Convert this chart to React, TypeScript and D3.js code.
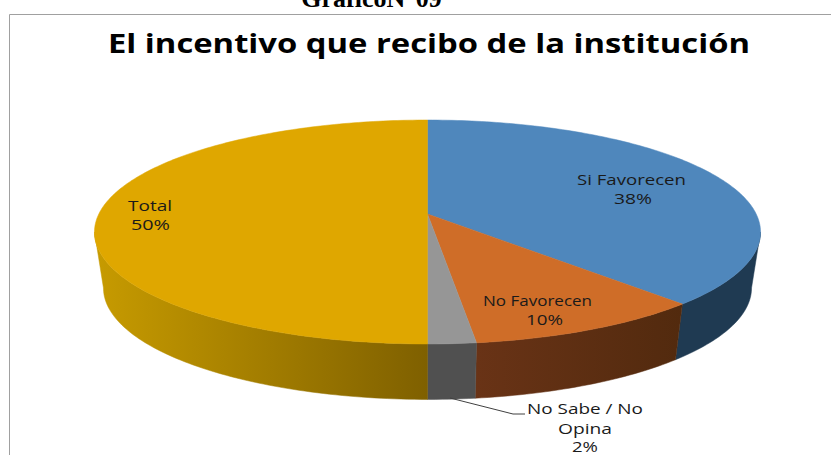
import React from 'react';
import * as d3 from 'd3';

const categories = ['Si Favorecen', 'No Favorecen', 'No Sabe / No Opina', 'Total'];
const percents = [38, 10, 2, 50];
const topColors = ['#4f87bc', '#cf6d28', '#969696', '#dfa700'];
const sideFrom = ['#1f3a52', '#693316', '#505050', '#7f6000'];
const sideTo = ['#1f3a52', '#522a0e', '#505050', '#c79b00'];

const width = 831;
const height = 455;

// perspective ellipse of the pie top: v runs back (-1) to front (1)
const persp = -0.1607;
const project = (angle: number, bottom = false): [number, number] => {
  const u = Math.sin(angle);
  const v = -Math.cos(angle);
  const w = 1 + persp * v;
  const x = (328.7 * u) / w;
  const y = (214 + 74.7 * v) / w;
  return bottom ? [427.5 + x * 0.973, 288 + (y - 232) * 0.995] : [427.5 + x, y];
};

const pieLayout = d3.pie<number>().sort(null);
const slices = pieLayout(percents);
const line = d3.line();
// the rim is widest slightly in front of the centre line
const frontStart = (99.2 * Math.PI) / 180;
const frontEnd = (260.8 * Math.PI) / 180;
const step = Math.PI / 180;

const rim = (a0: number, a1: number, bottom = false) =>
  d3.range(a0, a1, step).concat(a1).map(a => project(a, bottom));

const App = () => {
  return (
    <svg width={width} height={height} style={{ position: 'absolute', left: 0, top: 0, background: '#fff' }}>
      <defs>
        {slices.map((s, i) => {
          const a0 = Math.max(s.startAngle, frontStart);
          const a1 = Math.min(s.endAngle, frontEnd);
          return (
            <linearGradient key={i} id={`side${i}`} gradientUnits="userSpaceOnUse"
              x1={Math.min(project(a0)[0], project(a1)[0])} x2={Math.max(project(a0)[0], project(a1)[0])} y1={0} y2={0}>
              <stop offset="0%" stopColor={i === 3 ? sideTo[i] : sideFrom[i]} />
              <stop offset="100%" stopColor={i === 3 ? sideFrom[i] : sideTo[i]} />
            </linearGradient>
          );
        })}
      </defs>
      <text x={371.5} y={7} textAnchor="middle" fontFamily="Liberation Serif" fontWeight="bold" fontSize={26}>GraficoN°09</text>
      <polyline points={`9.5,${height} 9.5,14.5 ${width},14.5`} fill="none" stroke="#a0a0a0" />
      <text x={108} y={53} fontFamily="Open Sans" fontWeight="bold" fontSize={27} textLength={642} lengthAdjust="spacingAndGlyphs">El incentivo que recibo de la institución</text>

      {slices.map((s, i) => {
        const a0 = Math.max(s.startAngle, frontStart);
        const a1 = Math.min(s.endAngle, frontEnd);
        const pts = [...rim(a0, a1), ...rim(a0, a1, true).reverse()];
        return <path key={i} d={line(pts) + 'Z'} fill={`url(#side${i})`} stroke={`url(#side${i})`} strokeWidth={0.5} />;
      })}
      {slices.map((s, i) => {
        const pts = [[427.5, 214] as [number, number], ...rim(s.startAngle, s.endAngle)];
        return <path key={i} d={line(pts) + 'Z'} fill={topColors[i]} stroke={topColors[i]} strokeWidth={0.5} />;
      })}

      <g fontFamily="Open Sans" fontSize={15} fill="#1a1a1a">
        <text x={577} y={185} textLength={109} lengthAdjust="spacingAndGlyphs">{categories[0]}</text>
        <text x={614} y={204} textLength={38} lengthAdjust="spacingAndGlyphs">{percents[0]}%</text>
        <text x={483} y={306} textLength={109} lengthAdjust="spacingAndGlyphs">{categories[1]}</text>
        <text x={526} y={325} textLength={37} lengthAdjust="spacingAndGlyphs">{percents[1]}%</text>
        <text x={527} y={414} textLength={116} lengthAdjust="spacingAndGlyphs">No Sabe / No</text>
        <text x={558} y={434} textLength={54} lengthAdjust="spacingAndGlyphs">Opina</text>
        <text x={572} y={452} textLength={26} lengthAdjust="spacingAndGlyphs" fontSize={14}>{percents[2]}%</text>
        <text x={128} y={211} textLength={44} lengthAdjust="spacingAndGlyphs">{categories[3]}</text>
        <text x={131} y={230} textLength={39} lengthAdjust="spacingAndGlyphs">{percents[3]}%</text>
      </g>
      <polyline points="450,398 513,414 525,414" fill="none" stroke="#404040" />
    </svg>
  );
};

export default App;
